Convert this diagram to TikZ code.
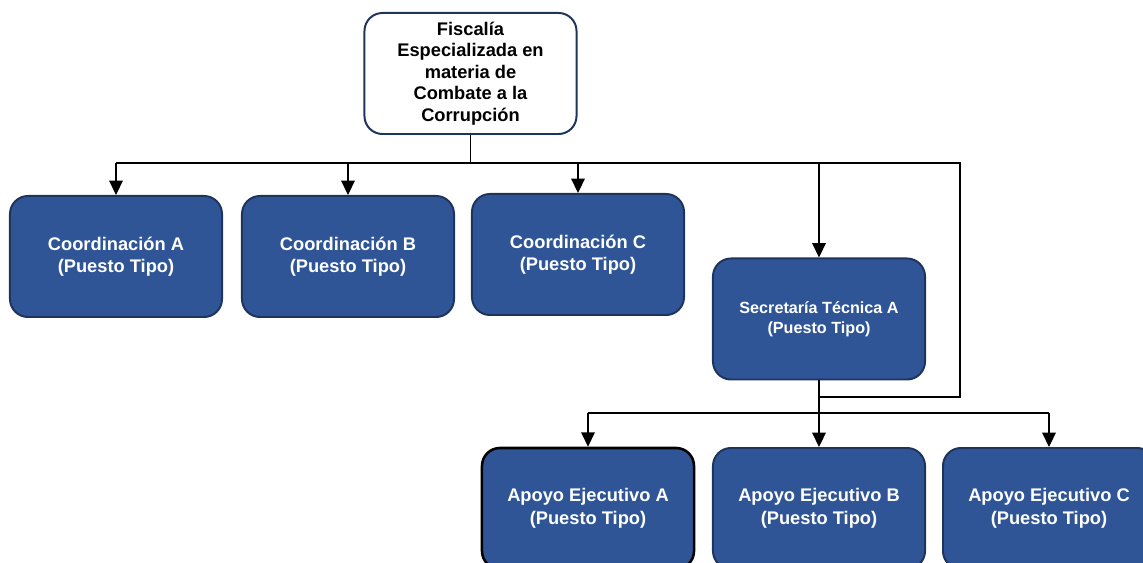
\documentclass[tikz,border=0pt]{standalone}
\usepackage{fontspec}
\setmainfont{Liberation Sans}
\usetikzlibrary{arrows.meta}
\definecolor{boxblue}{RGB}{47,85,151}
\definecolor{boxline}{RGB}{31,52,92}
\begin{document}
\begin{tikzpicture}[x=0.025cm,y=-0.025cm,line width=1pt,
	puesto/.style={draw=boxline,line width=1.4pt,fill=boxblue,text=white,rounded corners=0.45cm,
		minimum width=5.3cm,minimum height=3.025cm,align=center,
		font=\bfseries\fontsize{13}{16}\selectfont},
	arr/.style={-{Triangle[length=0.36cm,width=0.34cm]}}]
	\useasboundingbox (0,0) rectangle (1143,563);
	%\draw[help lines,step=50] (0,0) grid (1143,563);
	\node[puesto,fill=white,text=black,font=\bfseries\fontsize{13}{15.3}\selectfont] (fisc) at (470.5,73.5)
		{Fiscalía\\Especializada en\\materia de\\Combate a la\\Corrupción};
	\node[puesto] (coordA) at (116,256.5) {Coordinación A\\(Puesto Tipo)};
	\node[puesto] (coordB) at (348,256.5) {Coordinación B\\(Puesto Tipo)};
	\node[puesto] (coordC) at (578,254.5) {Coordinación C\\(Puesto Tipo)};
	\node[puesto,font=\bfseries\fontsize{11.5}{14.5}\selectfont] (sec) at (819,319) {Secretaría Técnica A\\(Puesto Tipo)};
	\node[puesto,draw=black,line width=1.8pt] (apoyoA) at (588,508.5) {Apoyo Ejecutivo A\\(Puesto Tipo)};
	\node[puesto] (apoyoB) at (819,508.5) {Apoyo Ejecutivo B\\(Puesto Tipo)};
	\node[puesto] (apoyoC) at (1049,508.5) {Apoyo Ejecutivo C\\(Puesto Tipo)};
	% lineas
	\coordinate (busL) at (116,163);
	\coordinate (busR) at (960,163);
	\coordinate (loopR) at (960,397);
	\coordinate (busB) at (819,413);
	\draw (fisc.south) -- (fisc.south |- busL);
	\draw (busL) -- (busR) -- (loopR) -- (loopR -| sec.south);
	\draw[arr] (busL) -- (coordA.north);
	\draw[arr] (coordB.north |- busL) -- (coordB.north);
	\draw[arr] (coordC.north |- busL) -- (coordC.north);
	\draw[arr] (sec.north |- busL) -- (sec.north);
	\draw (sec.south) -- (busB);
	\draw (apoyoA.north |- busB) -- (apoyoC.north |- busB);
	\draw[arr] (apoyoA.north |- busB) -- (apoyoA.north);
	\draw[arr] (busB) -- (apoyoB.north);
	\draw[arr] (apoyoC.north |- busB) -- (apoyoC.north);
\end{tikzpicture}
\end{document}
